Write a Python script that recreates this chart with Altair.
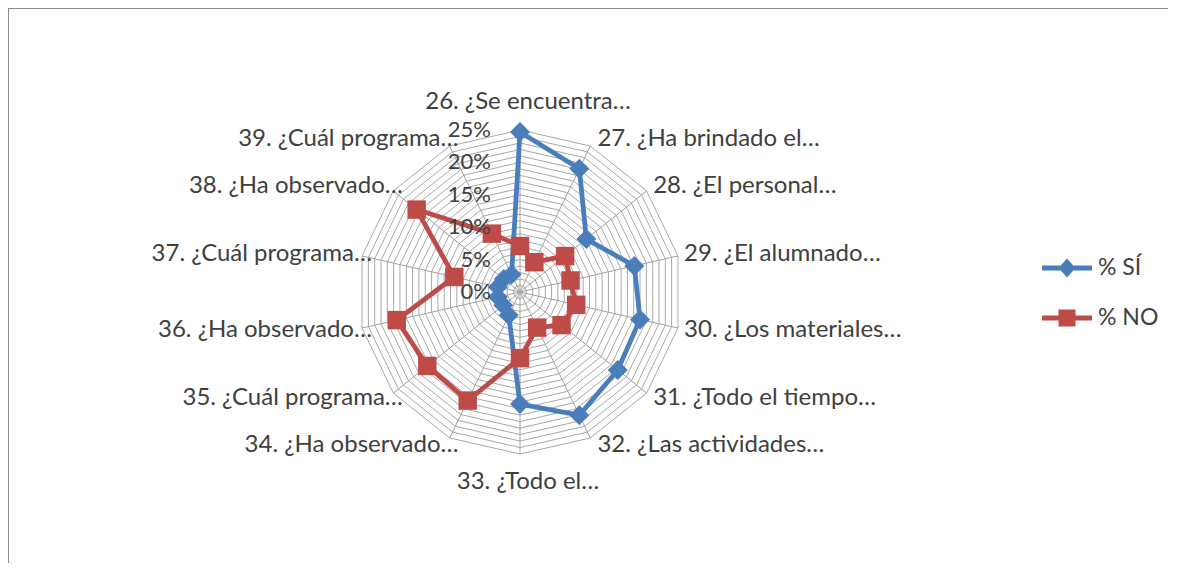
import altair as alt
import pandas as pd

# ---------------- data ----------------
categories = [
    "26. ¿Se encuentra…", "27. ¿Ha brindado el…", "28. ¿El personal…",
    "29. ¿El alumnado…", "30. ¿Los materiales…", "31. ¿Todo el tiempo…",
    "32. ¿Las actividades…", "33. ¿Todo el…", "34. ¿Ha observado…",
    "35. ¿Cuál programa…", "36. ¿Ha observado…", "37. ¿Cuál programa…",
    "38. ¿Ha observado…", "39. ¿Cuál programa…",
]
si_values = [24.7, 21.1, 13.1, 18.1, 19.0, 19.3, 21.1, 17.3, 4.0, 3.3, 3.5, 3.5, 3.2, 3.0]
no_values = [7.1, 5.1, 8.9, 8.0, 8.9, 8.2, 6.1, 10.2, 18.6, 18.3, 19.5, 10.4, 20.4, 10.0]
series_names = ["% SÍ", "% NO"]
series_colors = ["#4a7ebb", "#be4b48"]
tick_values = [0, 5, 10, 15, 20, 25]
tick_labels = ["0%", "5%", "10%", "15%", "20%", "25%"]
grid_levels = list(range(1, 26))

# ---------------- layout ----------------
N = len(categories)
R_MAX = 25
PX = 6.48            # pixels per percentage unit
W, H = 1160, 555     # plot area
CX, CY = 512, 284    # radar centre inside plot area
FONT = "Lato"
TXT = "#404040"

x_scale = alt.Scale(domain=[-CX / PX, (W - CX) / PX], nice=False, zero=False)
y_scale = alt.Scale(domain=[-(H - CY) / PX, CY / PX], nice=False, zero=False)
ang = f"(2 * PI * datum.idx / {N})"

# series table (closed polygon)
rows = []
for name, vals in zip(series_names, [si_values, no_values]):
    for i in range(N + 1):
        rows.append({"series": name, "idx": i, "value": vals[i % N]})
series_df = pd.DataFrame(rows)

grid_df = pd.DataFrame([{"ring": r, "idx": i} for r in grid_levels for i in range(N + 1)])
spoke_df = pd.DataFrame({"idx": list(range(N))})
tick_df = pd.DataFrame({"v": tick_values, "label": tick_labels})
label_df = pd.DataFrame({
    "idx": list(range(N)),
    "label": categories,
    "side": ["center" if i in (0, N // 2) else ("left" if i < N // 2 else "right") for i in range(N)],
})

X = lambda f: alt.X(f"{f}:Q", scale=x_scale, axis=None)
Y = lambda f: alt.Y(f"{f}:Q", scale=y_scale, axis=None)

# grid rings
rings = alt.Chart(grid_df).transform_calculate(
    gx=f"datum.ring * sin{ang}", gy=f"datum.ring * cos{ang}"
).mark_line(color="#a8a8a8", strokeWidth=1).encode(
    x=X("gx"), y=Y("gy"), detail="ring:N", order="idx:Q"
)

spokes = alt.Chart(spoke_df).transform_calculate(
    x0="0", y0="0", sx=f"{R_MAX} * sin{ang}", sy=f"{R_MAX} * cos{ang}"
).mark_rule(color="#a0a0a0", strokeWidth=1).encode(
    x=X("x0"), y=Y("y0"), x2="sx:Q", y2="sy:Q"
)

color_scale = alt.Scale(domain=series_names, range=series_colors)

legend_shape = (
    "datum.value === '% SÍ' ? "
    "'M-1,-0.1H1V0.1H-1Z M0,-0.38L0.34,0L0,0.38L-0.34,0Z' : "
    "'M-1,-0.1H1V0.1H-1Z M-0.34,-0.34H0.34V0.34H-0.34Z'"
)
legend_fill = f"datum.value === '% SÍ' ? '{series_colors[0]}' : '{series_colors[1]}'"

legend = alt.Legend(
    title=None, orient="none", legendX=1034, legendY=235, padding=0,
    symbolSize=2500, labelFont=FONT, labelFontSize=23, labelColor=TXT,
    labelOffset=6, rowPadding=13,
    symbolType={"expr": legend_shape},
    symbolFillColor={"expr": legend_fill},
    symbolStrokeWidth=0, symbolOpacity=1,
)

def series_layers(name, shape, size, show_legend):
    base = alt.Chart(series_df).transform_filter(
        alt.datum.series == name
    ).transform_calculate(
        px=f"datum.value * sin{ang}", py=f"datum.value * cos{ang}"
    )
    line = base.mark_line(strokeWidth=4.8, strokeJoin="round").encode(
        x=X("px"), y=Y("py"), order="idx:Q",
        color=alt.Color("series:N", scale=color_scale, legend=legend if show_legend else None),
    )
    pts = base.transform_filter(f"datum.idx < {N}").mark_point(
        shape=shape, filled=True, size=size, opacity=1, strokeWidth=0
    ).encode(
        x=X("px"), y=Y("py"),
        color=alt.Color("series:N", scale=color_scale, legend=None),
    )
    return [line, pts]

tick_text = alt.Chart(tick_df).transform_calculate(tx="0").mark_text(
    align="right", baseline="middle", dx=-29, font=FONT, fontSize=22, color=TXT
).encode(x=X("tx"), y=Y("v"), text="label:N")

def label_layer(side):
    return alt.Chart(label_df).transform_filter(
        alt.datum.side == side
    ).transform_calculate(
        lx=f"24.7 * sin{ang}",
        ly=f"(datum.side == 'center' ? 29.3 : 26.2) * cos{ang}",
    ).mark_text(
        align=side, baseline="middle", dx=8,
        font=FONT, fontSize=24, color=TXT
    ).encode(x=X("lx"), y=Y("ly"), text="label:N")

frame_left = alt.Chart(pd.DataFrame({"a": [0]})).mark_rule(color="#8c8c8c", strokeWidth=2).encode(
    x=alt.value(0), y=alt.value(0), y2=alt.value(H)
)
frame_top = alt.Chart(pd.DataFrame({"a": [0]})).mark_rule(color="#8c8c8c", strokeWidth=2).encode(
    x=alt.value(0), x2=alt.value(W), y=alt.value(0)
)

layers = [rings, spokes] + series_layers("% SÍ", "diamond", 400, True) + \
    series_layers("% NO", "square", 340, False) + \
    [tick_text, label_layer("left"), label_layer("center"), label_layer("right"), frame_left, frame_top]

chart = alt.layer(*layers).properties(
    width=W, height=H, padding=0, autosize=alt.AutoSizeParams(type="none")
).configure_view(stroke=None)

chart.save("out.html", embed_options={"renderer": "svg", "actions": False})
